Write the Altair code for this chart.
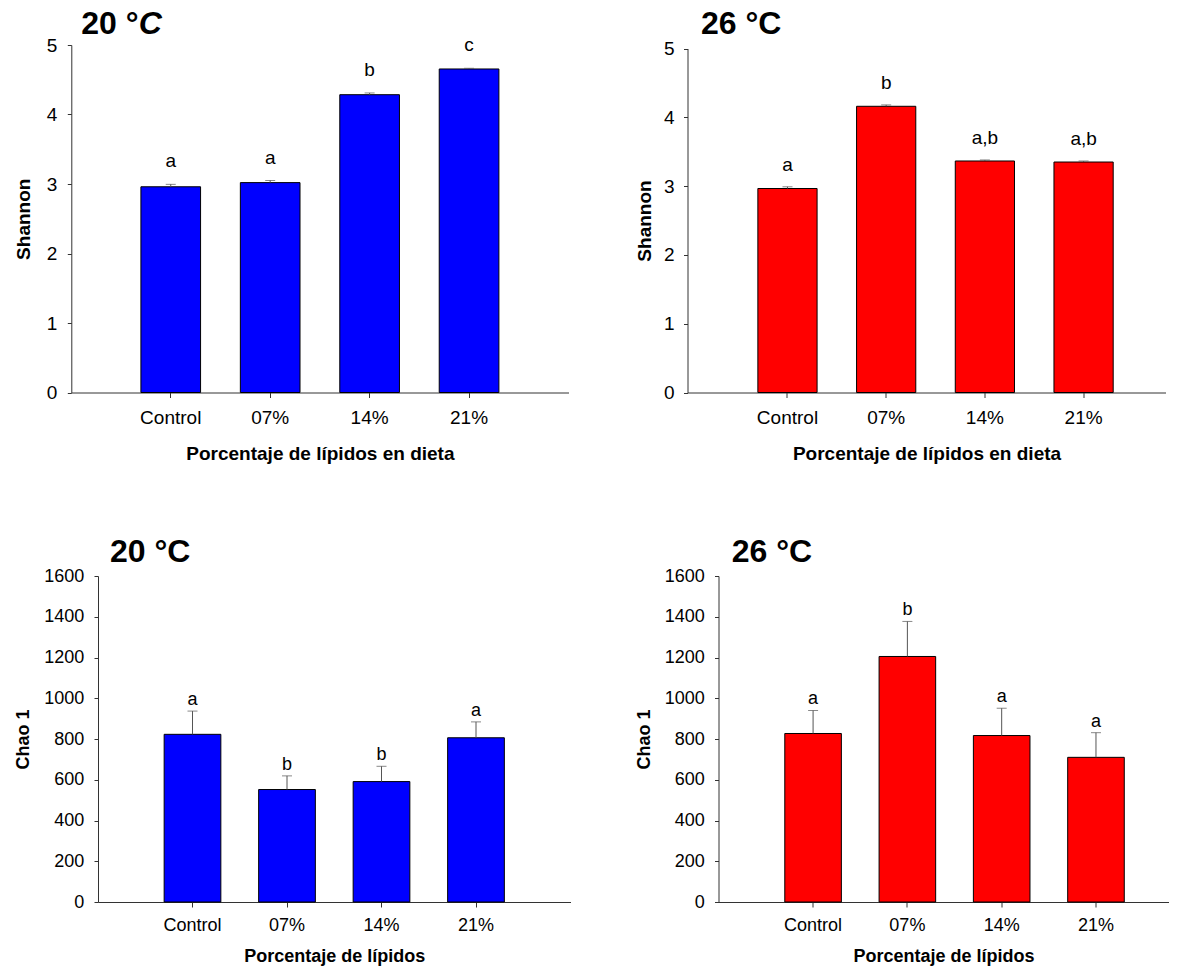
import altair as alt
import pandas as pd

categories = ["Control", "07%", "14%", "21%"]

shannon20 = [2.96, 3.02, 4.285, 4.655]
shannon20_err = [0.035, 0.03, 0.025, 0.01]
shannon20_letters = ["a", "a", "b", "c"]

shannon26 = [2.965, 4.16, 3.365, 3.35]
shannon26_err = [0.025, 0.02, 0.015, 0.015]
shannon26_letters = ["a", "b", "a,b", "a,b"]

chao20 = [823, 552, 591, 806]
chao20_err = [114, 67, 75, 78]
chao20_letters = ["a", "b", "b", "a"]

chao26 = [827, 1205, 817, 710]
chao26_err = [113, 172, 134, 121]
chao26_letters = ["a", "b", "a", "a"]

FONT = "Liberation Sans"


def panel(vals, errs, letters, color, ymax, ystep, ytitle, xtitle,
          width, height, xrange, pad_outer, align, yrange, yoffset, fs,
          ylab_pad, ytitle_pad, xlab_pad, xtitle_pad, letter_dy, title_parts, title_y):
    df = pd.DataFrame({"cat": categories, "v": vals, "e": errs, "lab": letters})
    df["top"] = df["v"] + df["e"]
    base = alt.Chart(df)

    xaxis = alt.Axis(title=xtitle, labelAngle=0, labelFontSize=fs, titleFontSize=fs,
                     titleFontWeight="bold", labelPadding=xlab_pad, titlePadding=xtitle_pad,
                     tickSize=5, grid=False, labelFont=FONT, titleFont=FONT)
    xscale = alt.Scale(paddingInner=0.4, paddingOuter=pad_outer, align=align, range=xrange)
    yaxis = alt.Axis(title=ytitle, values=list(range(0, ymax + 1, ystep)), format="d",
                     labelFontSize=fs, titleFontSize=fs, titleFontWeight="bold",
                     labelPadding=ylab_pad, titlePadding=ytitle_pad, tickSize=4, grid=False,
                     labelFont=FONT, titleFont=FONT, offset=yoffset)
    yscale = alt.Scale(domain=[0, ymax], nice=False, range=yrange)

    def X():
        return alt.X("cat:N", sort=categories, scale=xscale, axis=xaxis)

    def Y(field):
        return alt.Y(field, scale=yscale, axis=yaxis)

    bars = base.mark_bar(color=color, stroke="black", strokeWidth=1).encode(
        x=X(), y=Y("v:Q"))
    rule = base.mark_rule(color="#555555", strokeWidth=1).encode(
        x=X(), y=Y("v:Q"), y2="top:Q")
    cap = base.mark_tick(color="#555555", size=10, thickness=1).encode(
        x=X(), y=Y("top:Q"))
    txt = base.mark_text(fontSize=fs, font=FONT, baseline="alphabetic", dy=-letter_dy,
                         color="black").encode(x=X(), y=Y("top:Q"), text="lab:N")

    layers = [bars, rule, cap, txt]
    for t, xpos, style in title_parts:
        tdf = pd.DataFrame({"t": [t]})
        layers.append(
            alt.Chart(tdf).mark_text(fontSize=32, font=FONT, fontWeight="bold",
                                     fontStyle=style, align="left", baseline="alphabetic",
                                     color="black").encode(
                x=alt.value(xpos), y=alt.value(title_y), text="t:N")
        )
    return alt.layer(*layers).properties(width=width, height=height)


# top-left: plot origin shared with bottom-left; axis drawn 26.7 px further left
tl = panel(shannon20, shannon20_err, shannon20_letters, "#0000FF", 5, 1, "Shannon",
           "Porcentaje de lípidos en dieta", 470.5, 347.5, [-26.7, 470.5], 0.7, 0.5,
           [347.5, 0], 26.7, 19, 10.5, 12.3, 11, 17, 17,
           [("20 °", -16.7, "normal"), ("C", 40.8, "italic")], -11)
tr = panel(shannon26, shannon26_err, shannon26_letters, "#FF0000", 5, 1, "Shannon",
           "Porcentaje de lípidos en dieta", 478, 347.5, [0, 478], 0.6215, 0.5736,
           [347.5, 3.5], 0, 19, 9.5, 8.6, 11, 17, 16, [("26 °C", 13.4, "normal")], -11)
bl = panel(chao20, chao20_err, chao20_letters, "#0000FF", 1600, 200, "Chao 1",
           "Porcentaje de lípidos", 472.5, 326, [0, 472.5], 0.7, 0.5,
           [326, 0], 0, 18, 10.3, 10.8, 9.7, 12.5, 6, [("20 °C", 12, "normal")], -13.7)
br = panel(chao26, chao26_err, chao26_letters, "#FF0000", 1600, 200, "Chao 1",
           "Porcentaje de lípidos", 450, 326, [0, 450], 0.586, 0.5998,
           [326, 0], 0, 18, 10.3, 10.6, 9.7, 12.5, 6, [("26 °C", 13.3, "normal")], -13.7)

chart = alt.concat(
    tl, tr, bl, br,
    columns=2,
    align="none",
    spacing={"row": 72, "column": 39.5},
).properties(
    padding={"left": 6, "top": 0, "right": 0, "bottom": 0},
    background="white",
).configure_view(stroke=None).configure_axis(
    domainColor="#333333", tickColor="#333333", labelColor="black", titleColor="black",
    domainWidth=1, tickWidth=1,
)

chart.save("out.html", embed_options={"renderer": "svg", "actions": False})
